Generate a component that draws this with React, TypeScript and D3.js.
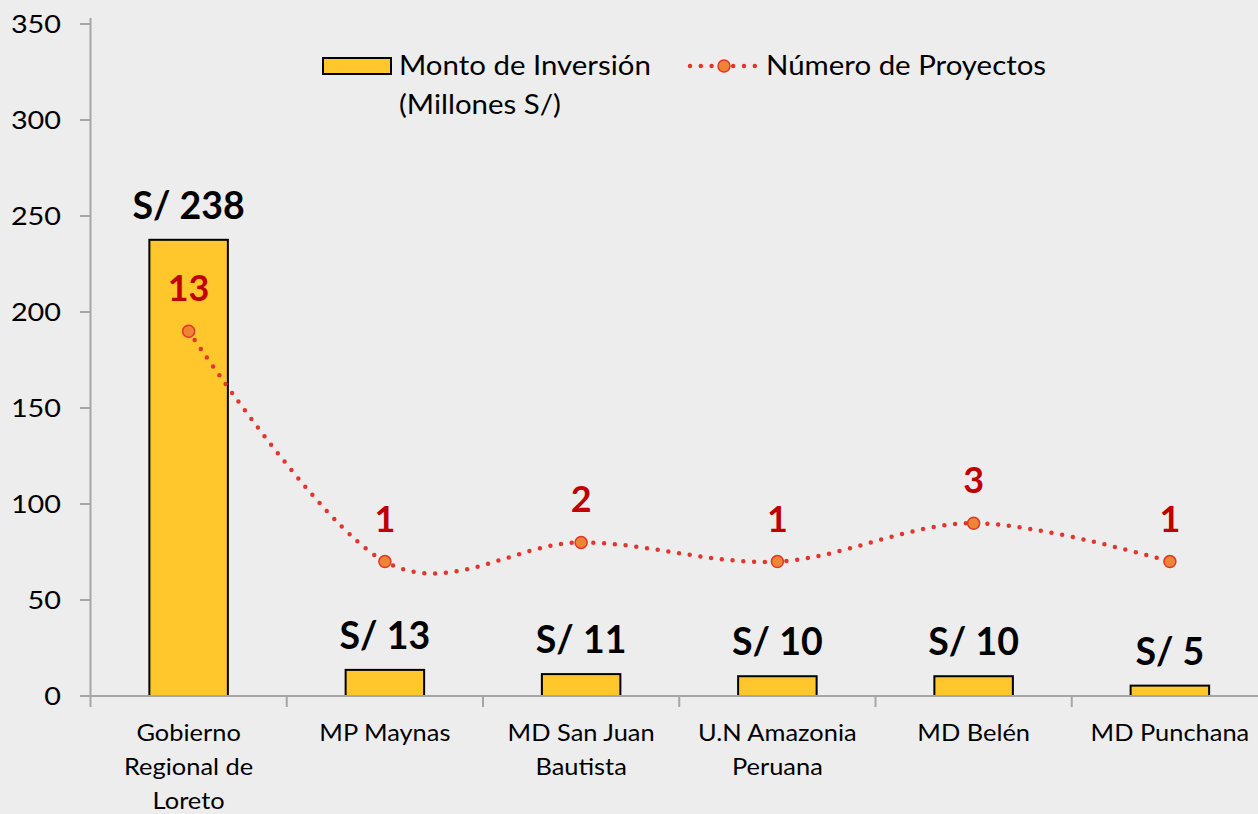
import React from "react";
import * as d3 from "d3";

const categories: string[][] = [
  ["Gobierno", "Regional de", "Loreto"],
  ["MP Maynas"],
  ["MD San Juan", "Bautista"],
  ["U.N Amazonia", "Peruana"],
  ["MD Belén"],
  ["MD Punchana"],
];
const montoValues = [237.6, 13.6, 11.4, 10.3, 10.3, 5.4];
const montoLabels = ["S/ 238", "S/ 13", "S/ 11", "S/ 10", "S/ 10", "S/ 5"];
const proyectos = [13, 1, 2, 1, 3, 1];
const yTicks = [0, 50, 100, 150, 200, 250, 300, 350];

const W = 1258;
const H = 814;
const FONT = "Lato, 'Open Sans', sans-serif";

function SText(props: {
  x: number;
  y: number;
  anchor?: string;
  size: number;
  sx?: number;
  children: React.ReactNode;
}) {
  const sx = props.sx ?? 1.13;
  return (
    <text
      transform={`translate(${props.x},${props.y}) scale(${sx},1)`}
      textAnchor={props.anchor || "start"}
      fontSize={props.size}
      fill="#000"
    >
      {props.children}
    </text>
  );
}

export default function App() {
  const keys = categories.map((c) => c.join(" "));
  const x = d3.scaleBand<string>().domain(keys).range([90.5, 1268]).padding(0);
  const y = d3.scaleLinear().domain([0, 350]).range([696, 24]);
  const yP = d3.scaleLinear().domain([-6, 29]).range([696, 24]);
  const bw = x.bandwidth();
  const barW = bw * 0.4;
  const cx = (i: number) => (x(keys[i]) as number) + bw / 2;

  const line = d3
    .line<number>()
    .x((_, i) => cx(i))
    .y((d) => yP(d))
    .curve(d3.curveCardinal.tension(0));

  const lineColor = "#E2352B";
  const markerFill = "#EE8534";
  const axisColor = "#A6A6A6";

  return (
    <div style={{ position: "fixed", left: 0, top: 0 }}>
      <svg width={W} height={H} style={{ display: "block", background: "#EDEDED" }} fontFamily={FONT}>
        <rect x={0} y={0} width={W} height={H} fill="#EDEDED" />
        {/* y axis */}
        <line x1={90.5} x2={90.5} y1={y(350) - 6} y2={y(0)} stroke={axisColor} strokeWidth={2} />
        {yTicks.map((t) => (
          <g key={t}>
            <line x1={80} x2={90.5} y1={y(t)} y2={y(t)} stroke={axisColor} strokeWidth={2} />
            <SText x={61} y={y(t) + 9} anchor="end" size={25.5}>
              {t}
            </SText>
          </g>
        ))}
        {/* bars */}
        {montoValues.map((v, i) => (
          <g key={i}>
            <rect
              x={cx(i) - barW / 2}
              y={y(v)}
              width={barW}
              height={y(0) - y(v)}
              fill="#FFC72C"
              stroke="#000"
              strokeWidth={2}
            />
            <text
              x={cx(i)}
              y={y(v) - 21}
              textAnchor="middle"
              fontSize={37.5}
              fontWeight="bold"
              fill="#000"
            >
              {montoLabels[i]}
            </text>
          </g>
        ))}
        {/* x axis */}
        <line x1={80} x2={W} y1={y(0)} y2={y(0)} stroke={axisColor} strokeWidth={2} />
        {keys.map((k) => (
          <line
            key={k}
            x1={x(k) as number}
            x2={x(k) as number}
            y1={y(0)}
            y2={y(0) + 11}
            stroke={axisColor}
            strokeWidth={2}
          />
        ))}
        {categories.map((lines, i) =>
          lines.map((l, j) => (
            <SText key={i + "-" + j} x={cx(i)} y={741 + j * 34} anchor="middle" size={22.5}>
              {l}
            </SText>
          ))
        )}
        {/* line series */}
        <path
          d={line(proyectos) || ""}
          fill="none"
          stroke={lineColor}
          strokeWidth={4.5}
          strokeDasharray="0 10.8"
          strokeLinecap="round"
        />
        {proyectos.map((p, i) => (
          <g key={i}>
            <circle cx={cx(i)} cy={yP(p)} r={6} fill={markerFill} stroke={lineColor} strokeWidth={1.5} />
            <text
              x={cx(i)}
              y={yP(p) - 30}
              textAnchor="middle"
              fontSize={36}
              fontWeight="bold"
              fill="#C00000"
            >
              {p}
            </text>
          </g>
        ))}
        {/* legend */}
        <rect x={323} y={58} width={68} height={16} fill="#FFC72C" stroke="#000" strokeWidth={2} />
        <SText x={399} y={75} size={27.5} sx={1.07}>
          Monto de Inversión
        </SText>
        <SText x={399} y={114} size={27.5} sx={1.07}>
          (Millones S/)
        </SText>
        <line
          x1={690}
          x2={757}
          y1={66}
          y2={66}
          stroke={lineColor}
          strokeWidth={4.5}
          strokeDasharray="0 10.8"
          strokeLinecap="round"
        />
        <circle cx={724} cy={66} r={6} fill={markerFill} stroke={lineColor} strokeWidth={1.5} />
        <SText x={766} y={75} size={27.5} sx={1.07}>
          Número de Proyectos
        </SText>
      </svg>
    </div>
  );
}
